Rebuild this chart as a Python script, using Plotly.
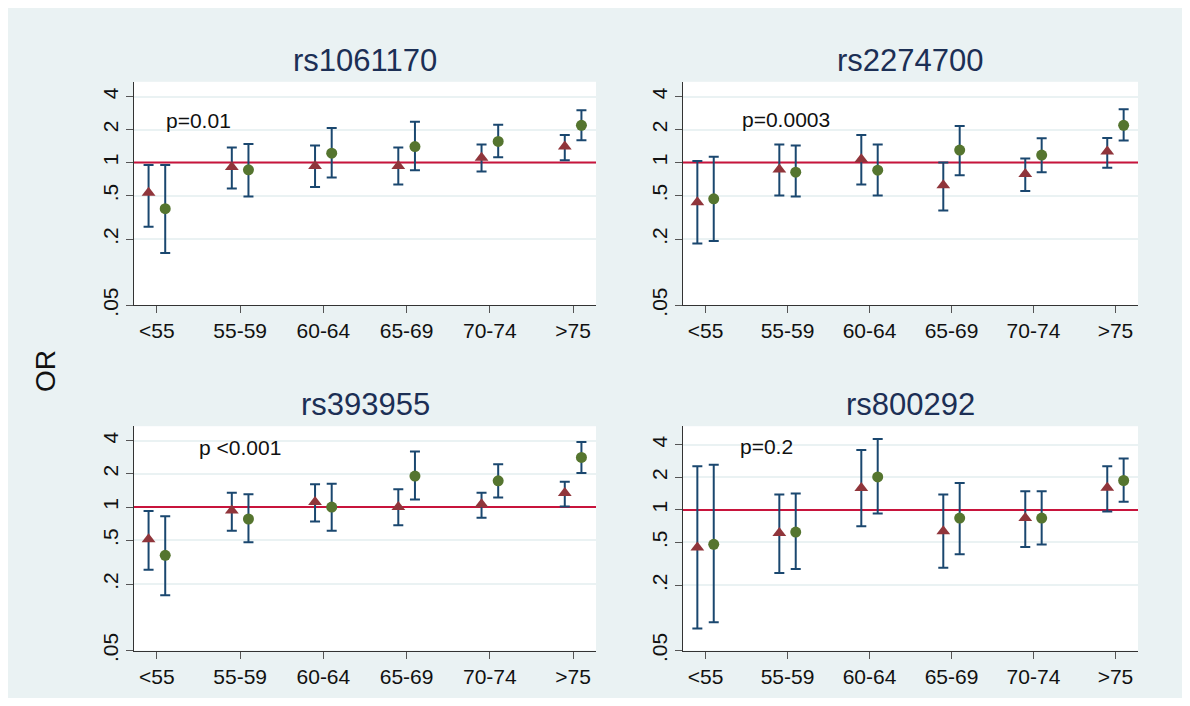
import math
import plotly.graph_objects as go

# ---------------- data ----------------
age_groups = ["<55", "55-59", "60-64", "65-69", "70-74", ">75"]
snps = ["rs1061170", "rs2274700", "rs393955", "rs800292"]
p_labels = ["p=0.01", "p=0.0003", "p <0.001", "p=0.2"]
ref_or = 1

y_ticks = [4, 2, 1, 0.5, 0.2, 0.05]
y_tick_text = ["4", "2", "1", ".5", ".2", ".05"]

# rs1061170
rs1061170_tri_or = [0.53, 0.91, 0.93, 0.93, 1.11, 1.40]
rs1061170_tri_lo = [0.26, 0.58, 0.60, 0.63, 0.83, 1.05]
rs1061170_tri_hi = [0.95, 1.37, 1.43, 1.37, 1.46, 1.79]
rs1061170_cir_or = [0.38, 0.86, 1.22, 1.40, 1.56, 2.19]
rs1061170_cir_lo = [0.15, 0.49, 0.73, 0.85, 1.12, 1.60]
rs1061170_cir_hi = [0.95, 1.48, 2.07, 2.36, 2.22, 3.01]

# rs2274700
rs2274700_tri_or = [0.435, 0.865, 1.07, 0.62, 0.785, 1.26]
rs2274700_tri_lo = [0.183, 0.50, 0.63, 0.366, 0.55, 0.895]
rs2274700_tri_hi = [1.035, 1.46, 1.79, 1.00, 1.09, 1.68]
rs2274700_cir_or = [0.467, 0.818, 0.853, 1.30, 1.17, 2.19]
rs2274700_cir_lo = [0.193, 0.49, 0.50, 0.768, 0.818, 1.59]
rs2274700_cir_hi = [1.13, 1.43, 1.46, 2.16, 1.67, 3.07]

# rs393955
rs393955_tri_or = [0.51, 0.93, 1.11, 1.00, 1.06, 1.34]
rs393955_tri_lo = [0.27, 0.61, 0.74, 0.685, 0.80, 1.01]
rs393955_tri_hi = [0.92, 1.35, 1.61, 1.45, 1.35, 1.70]
rs393955_cir_or = [0.365, 0.78, 1.00, 1.91, 1.73, 2.82]
rs393955_cir_lo = [0.159, 0.48, 0.61, 1.17, 1.22, 2.04]
rs393955_cir_hi = [0.825, 1.31, 1.63, 3.19, 2.44, 3.89]

# rs800292
rs800292_tri_or = [0.449, 0.61, 1.595, 0.636, 0.84, 1.606]
rs800292_tri_lo = [0.080, 0.261, 0.706, 0.291, 0.455, 0.966]
rs800292_tri_hi = [2.53, 1.387, 3.58, 1.387, 1.487, 2.53]
rs800292_cir_or = [0.481, 0.623, 2.02, 0.84, 0.84, 1.87]
rs800292_cir_lo = [0.0916, 0.284, 0.926, 0.388, 0.478, 1.19]
rs800292_cir_hi = [2.61, 1.417, 4.53, 1.77, 1.487, 2.99]

panels = [
    (rs1061170_tri_or, rs1061170_tri_lo, rs1061170_tri_hi,
     rs1061170_cir_or, rs1061170_cir_lo, rs1061170_cir_hi),
    (rs2274700_tri_or, rs2274700_tri_lo, rs2274700_tri_hi,
     rs2274700_cir_or, rs2274700_cir_lo, rs2274700_cir_hi),
    (rs393955_tri_or, rs393955_tri_lo, rs393955_tri_hi,
     rs393955_cir_or, rs393955_cir_lo, rs393955_cir_hi),
    (rs800292_tri_or, rs800292_tri_lo, rs800292_tri_hi,
     rs800292_cir_or, rs800292_cir_lo, rs800292_cir_hi),
]

# ---------------- style ----------------
PAGE_OFF = 8            # default body margin of the html page
W, H = 1190 - 2 * PAGE_OFF, 706 - 2 * PAGE_OFF
BG = "#EAF2F3"
TRI_C = "#90353B"
CIR_C = "#55752F"
ERR_C = "#1A476F"
REF_C = "#C8143C"
TITLE_C = "#1C2F55"
FONT = "Liberation Sans, Arial, sans-serif"


def px_x(v):
    return (v - PAGE_OFF) / W


def px_y(v):
    return 1 - (v - PAGE_OFF) / H


col_px = [(134, 596), (683, 1138)]
row_px = [(83, 310), (433, 661)]
y_tops = [5.46, 5.46, 5.41, 5.94]
x_range = [0.725, 6.275]
offset = 0.1

fig = go.Figure()

for k, (t_or, t_lo, t_hi, c_or, c_lo, c_hi) in enumerate(panels):
    r, c = divmod(k, 2)
    sfx = "" if k == 0 else str(k + 1)
    xs = [i + 1 for i in range(len(age_groups))]
    for est, lo, hi, sym, col, size, sign in [
        (t_or, t_lo, t_hi, "triangle-up", TRI_C, 12, -1),
        (c_or, c_lo, c_hi, "circle", CIR_C, 11, 1),
    ]:
        fig.add_trace(go.Scatter(
            x=[x + sign * offset for x in xs], y=est,
            mode="markers",
            marker=dict(symbol=sym, color=col, size=size, line=dict(width=0)),
            error_y=dict(type="data", symmetric=False,
                         array=[h - e for h, e in zip(hi, est)],
                         arrayminus=[e - l for e, l in zip(est, lo)],
                         color=ERR_C, thickness=2, width=5),
            xaxis="x" + sfx, yaxis="y" + sfx, showlegend=False,
            hoverinfo="skip",
        ))
    x0, x1 = col_px[c]
    yt, yb = row_px[r]
    fig.layout["xaxis" + sfx] = dict(
        domain=[px_x(x0), px_x(x1)], anchor="y" + sfx,
        range=x_range, tickvals=xs, ticktext=age_groups,
        showgrid=False, zeroline=False, showline=True, linecolor="#333333",
        linewidth=1, ticks="outside", ticklen=7, tickcolor="#555555",
        tickfont=dict(size=21, color="#111111", family=FONT),
        fixedrange=True,
    )
    fig.layout["yaxis" + sfx] = dict(
        domain=[px_y(yb), px_y(yt)], anchor="x" + sfx,
        type="log", range=[math.log10(0.05), math.log10(y_tops[k])],
        tickvals=y_ticks, ticktext=y_tick_text, tickangle=-90,
        showgrid=True, gridcolor=BG, gridwidth=2, zeroline=False,
        showline=True, linecolor="#333333", linewidth=1,
        ticks="outside", ticklen=7, tickcolor="#555555",
        tickfont=dict(size=21, color="#111111", family=FONT),
        fixedrange=True,
    )
    # reference line at OR = 1 (between grid and markers)
    fig.add_shape(type="line", xref="x" + sfx, yref="y" + sfx,
                  x0=x_range[0], x1=x_range[1], y0=ref_or, y1=ref_or,
                  line=dict(color=REF_C, width=2), layer="between")
    # panel title
    fig.add_annotation(text=snps[k], xref="paper", yref="paper",
                       x=px_x((x0 + x1) / 2), y=px_y(yt - 22),
                       xanchor="center", yanchor="middle", showarrow=False,
                       font=dict(size=31, color=TITLE_C, family=FONT))

p_pos = [(165, 122), (741, 121), (198, 455), (739, 454)]
for txt, (px, py) in zip(p_labels, p_pos):
    fig.add_annotation(text=txt, xref="paper", yref="paper",
                       x=px_x(px), y=px_y(py), xanchor="left", yanchor="middle",
                       showarrow=False, borderpad=0,
                       font=dict(size=21, color="#111111", family=FONT))

fig.add_annotation(text="OR", xref="paper", yref="paper",
                   x=px_x(45), y=px_y(377), textangle=-90,
                   xanchor="center", yanchor="middle", showarrow=False,
                   font=dict(size=28, color="#111111", family=FONT))

fig.update_layout(
    width=W, height=H,
    margin=dict(l=0, r=0, t=0, b=0),
    paper_bgcolor=BG, plot_bgcolor="white",
    font=dict(family=FONT),
)

fig.write_html("out.html")
